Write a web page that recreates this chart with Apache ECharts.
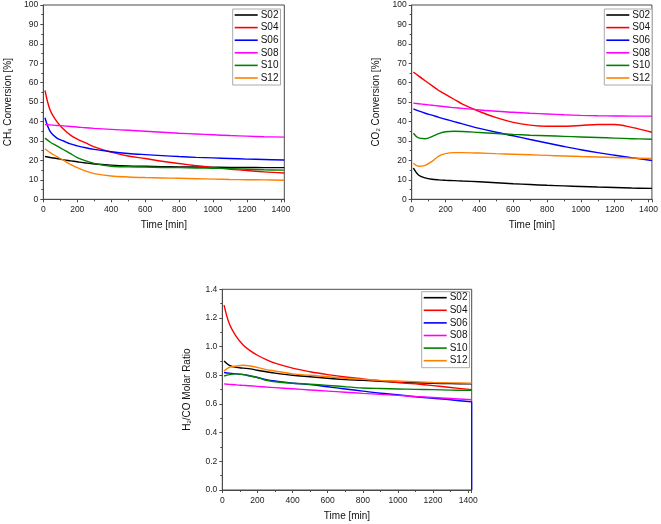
<!DOCTYPE html>
<html>
<head>
<meta charset="utf-8">
<script src="https://cdn.jsdelivr.net/npm/echarts@6/dist/echarts.min.js"></script>
<style>
html,body{margin:0;padding:0;background:#fff;}
#chart{width:661px;height:524px;}
</style>
</head>
<body>
<div id="chart"></div>
<script>
// ---- data ----
const seriesNames = ['S02', 'S04', 'S06', 'S08', 'S10', 'S12'];
const timeMin = [10, 40, 80, 120, 160, 200, 250, 300, 400, 500, 600, 700, 800, 900, 1000, 1100, 1200, 1300, 1420];
const xTicks = [0, 200, 400, 600, 800, 1000, 1200, 1400];

// CH4 conversion [%]
const ch4_S02 = [22, 21.5, 21, 20.3, 19.8, 19.3, 18.7, 18.2, 17.6, 17.2, 17.0, 16.8, 16.7, 16.6, 16.5, 16.4, 16.4, 16.3, 16.3];
const ch4_S04 = [56, 46, 40, 36, 33, 31, 29, 27, 24.3, 22.3, 21, 19.6, 18.4, 17.3, 16.3, 15.5, 14.8, 14.1, 13.5];
const ch4_S06 = [42, 35, 31.5, 30, 28.5, 27.5, 26.5, 25.7, 24.5, 23.6, 23, 22.5, 22, 21.6, 21.3, 21, 20.7, 20.5, 20.2];
const ch4_S08 = [38.5, 38.3, 38, 37.8, 37.5, 37.2, 36.8, 36.5, 36, 35.5, 35, 34.5, 34, 33.6, 33.2, 32.8, 32.5, 32.2, 32];
const ch4_S10 = [31.5, 29.5, 27.5, 25.5, 23.5, 21.5, 19.8, 18.5, 17, 16.7, 16.6, 16.4, 16.3, 16.1, 16, 15.8, 15.5, 15.2, 15];
const ch4_S12 = [26, 24, 22, 20, 18, 16.3, 14.5, 13.2, 12, 11.5, 11.2, 11, 10.8, 10.6, 10.4, 10.2, 10.1, 10, 9.8];

// CO2 conversion [%]
const co2_S02 = [16, 12.5, 11, 10.3, 10, 9.8, 9.6, 9.4, 9, 8.5, 8, 7.6, 7.2, 6.9, 6.6, 6.3, 6.1, 5.8, 5.6];
const co2_S04 = [65.5, 63.5, 61, 58.5, 56, 54, 51.5, 49, 45.2, 42, 39.6, 38.2, 37.6, 37.6, 38, 38.5, 38.5, 37, 34.5];
const co2_S06 = [46.5, 45.5, 44.3, 43.3, 42.2, 41.2, 40, 38.8, 36.5, 34.5, 32.7, 30.8, 29, 27.2, 25.5, 24, 22.7, 21.4, 20];
const co2_S08 = [49.5, 49.2, 48.8, 48.4, 48, 47.6, 47.2, 46.8, 46, 45.3, 44.8, 44.3, 43.9, 43.5, 43.2, 43, 42.9, 42.8, 42.8];
const co2_S10 = [34, 31.6, 31.2, 32.3, 33.8, 34.8, 35, 34.9, 34.4, 33.9, 33.4, 33, 32.7, 32.4, 32.1, 31.8, 31.5, 31.2, 30.9];
const co2_S12 = [18.5, 17, 17.5, 19.5, 22.2, 23.5, 24, 24, 23.8, 23.5, 23.2, 22.9, 22.6, 22.3, 22, 21.8, 21.5, 21.2, 21];

// H2/CO molar ratio
const h2co_S02 = [0.9, 0.87, 0.855, 0.85, 0.845, 0.835, 0.825, 0.815, 0.8, 0.79, 0.78, 0.77, 0.765, 0.758, 0.752, 0.748, 0.744, 0.742, 0.74];
const h2co_S04 = [1.29, 1.16, 1.07, 1.01, 0.97, 0.94, 0.91, 0.885, 0.85, 0.825, 0.805, 0.788, 0.775, 0.762, 0.75, 0.74, 0.728, 0.715, 0.70];
const h2co_S06 = [0.82, 0.815, 0.81, 0.805, 0.795, 0.785, 0.77, 0.76, 0.745, 0.735, 0.72, 0.705, 0.69, 0.675, 0.665, 0.65, 0.64, 0.63, 0.615];
const h2co_S08 = [0.74, 0.737, 0.733, 0.73, 0.727, 0.723, 0.718, 0.714, 0.706, 0.698, 0.69, 0.682, 0.674, 0.667, 0.66, 0.652, 0.645, 0.638, 0.63];
const h2co_S10 = [0.795, 0.805, 0.81, 0.805, 0.795, 0.785, 0.765, 0.755, 0.745, 0.738, 0.73, 0.72, 0.712, 0.708, 0.705, 0.702, 0.7, 0.697, 0.695];
const h2co_S12 = [0.83, 0.855, 0.865, 0.87, 0.865, 0.855, 0.84, 0.83, 0.81, 0.8, 0.79, 0.78, 0.772, 0.765, 0.76, 0.755, 0.75, 0.747, 0.745];
const h2co_S06_endTime = [1420, 1420];
const h2co_S06_endValue = [0.615, 0];

const colors = ['#000000', '#ff0000', '#0000ff', '#ff00ff', '#008000', '#ff8000'];

// ---- build ----
const panels = [
  { data: [ch4_S02, ch4_S04, ch4_S06, ch4_S08, ch4_S10, ch4_S12], yMin: 0, yMax: 100, yInt: 10,
    name: 'CH{sub|4} Conversion [%]', grid: { left: 43.3, top: 5, width: 241, height: 194.3 },
    legend: { left: 232.7, top: 9 }, fmt: v => String(v) },
  { data: [co2_S02, co2_S04, co2_S06, co2_S08, co2_S10, co2_S12], yMin: 0, yMax: 100, yInt: 10,
    name: 'CO{sub|2} Conversion [%]', grid: { left: 411.7, top: 5, width: 240.3, height: 194.3 },
    legend: { left: 604.3, top: 9 }, fmt: v => String(v) },
  { data: [h2co_S02, h2co_S04, h2co_S06, h2co_S08, h2co_S10, h2co_S12], yMin: 0, yMax: 1.4, yInt: 0.2,
    name: 'H{sub|2}/CO Molar Ratio', grid: { left: 222.3, top: 289.3, width: 249.4, height: 200.7 },
    legend: { left: 421.7, top: 291.7 }, fmt: v => v.toFixed(1) }
];

const grids = [], xAxes = [], yAxes = [], series = [], legends = [];
const frameColor = '#4a4a4a';
const labelStyle = { fontFamily: 'Liberation Sans, Arial, sans-serif', fontSize: 8.5, color: '#222' };
const nameStyle = { fontFamily: 'Liberation Sans, Arial, sans-serif', fontSize: 10, color: '#111',
  rich: { sub: { fontFamily: 'Liberation Sans, Arial, sans-serif', fontSize: 6, color: '#111', verticalAlign: 'bottom', padding: [4, 0, 0, 0] } } };

panels.forEach((p, i) => {
  grids.push(Object.assign({ show: true, borderColor: frameColor, borderWidth: 1, backgroundColor: 'transparent' }, p.grid));
  xAxes.push({
    type: 'value', gridIndex: i, min: 0, max: 1420, interval: 200,
    name: 'Time [min]', nameLocation: 'middle', nameGap: 21, nameTextStyle: nameStyle,
    axisLine: { show: true, lineStyle: { color: frameColor, width: 1 } },
    axisTick: { show: true, length: 3, lineStyle: { color: frameColor } },
    minorTick: { show: true, splitNumber: 2, length: 2, lineStyle: { color: frameColor } },
    splitLine: { show: false },
    axisLabel: Object.assign({ margin: 6, showMaxLabel: false,
      formatter: v => (xTicks.indexOf(v) >= 0 ? String(v) : '') }, labelStyle)
  });
  yAxes.push({
    type: 'value', gridIndex: i, min: p.yMin, max: p.yMax, interval: p.yInt,
    name: p.name, nameLocation: 'middle', nameRotate: 90, nameGap: 30, nameTextStyle: nameStyle,
    axisLine: { show: true, lineStyle: { color: frameColor, width: 1 } },
    axisTick: { show: true, length: 3, lineStyle: { color: frameColor } },
    minorTick: { show: true, splitNumber: 2, length: 2, lineStyle: { color: frameColor } },
    splitLine: { show: false },
    axisLabel: Object.assign({ margin: 5, formatter: p.fmt }, labelStyle)
  });
  const names = [];
  p.data.forEach((vals, k) => {
    const nm = seriesNames[k];
    names.push({ name: nm, icon: 'rect', itemStyle: { color: colors[k] } });
    series.push({
      type: 'line', name: nm, xAxisIndex: i, yAxisIndex: i,
      data: timeMin.map((t, j) => [t, vals[j]]),
      smooth: 0.35, symbol: 'none', showSymbol: false,
      lineStyle: { color: colors[k], width: 1.4 }, itemStyle: { color: colors[k] },
      legendHoverLink: false, silent: true, z: 3
    });
  });
  legends.push({
    show: true, orient: 'vertical', left: p.legend.left, top: p.legend.top,
    data: names, backgroundColor: '#fff', borderColor: '#aaa', borderWidth: 1,
    padding: [1, 2, 2, 2], itemGap: 2.6, itemWidth: 23, itemHeight: 1.6,
    selectedMode: false,
    textStyle: { fontFamily: 'Liberation Sans, Arial, sans-serif', fontSize: 10, color: '#111', padding: [0, 0, 0, -2], lineHeight: 10 }
  });
});

// blue drop at the end of H2/CO panel
series.push({
  type: 'line', name: 'S06', xAxisIndex: 2, yAxisIndex: 2,
  data: h2co_S06_endTime.map((t, j) => [t, h2co_S06_endValue[j]]),
  symbol: 'none', lineStyle: { color: colors[2], width: 1.2 }, silent: true, z: 2
});

const chart = echarts.init(document.getElementById('chart'), null, { renderer: 'canvas' });
chart.setOption({
  animation: false,
  backgroundColor: '#fff',
  grid: grids, xAxis: xAxes, yAxis: yAxes, series: series, legend: legends
});
</script>
</body>
</html>
